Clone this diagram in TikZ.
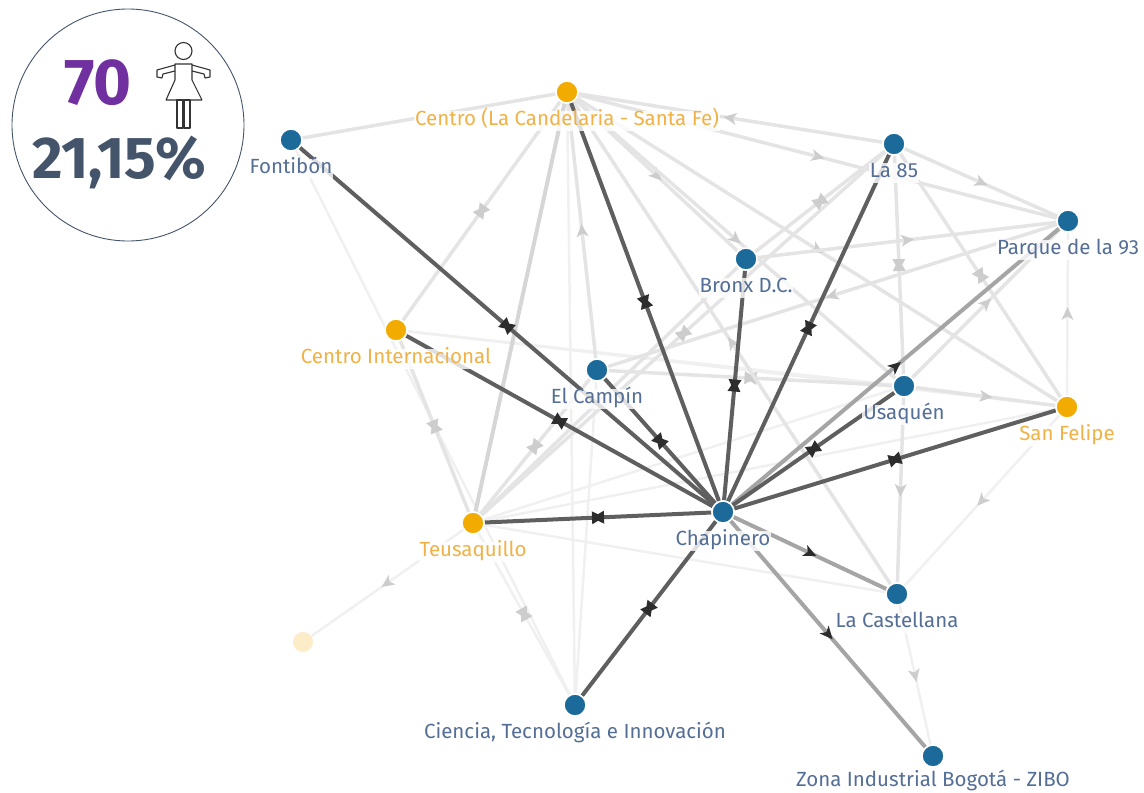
\documentclass[tikz,border=0pt]{standalone}
\usepackage{fontspec}
\setmainfont{Fira Sans}
\usetikzlibrary{decorations.markings}
\definecolor{nodeblue}{RGB}{27,106,154}
\definecolor{nodeorange}{RGB}{242,171,0}
\definecolor{lblblue}{RGB}{84,110,150}
\definecolor{lblorange}{RGB}{240,178,70}
\definecolor{edgedark}{RGB}{95,95,95}
\definecolor{edgemid}{RGB}{165,165,165}
\definecolor{edgelight}{RGB}{214,214,214}
\definecolor{edgefaint}{RGB}{228,228,228}
\definecolor{edgevfaint}{RGB}{240,240,240}
\definecolor{tipdark}{RGB}{45,45,45}
\definecolor{tipfaint}{RGB}{205,205,205}
\definecolor{badgeslate}{RGB}{68,84,106}
\definecolor{badgepurple}{RGB}{112,48,160}
\definecolor{ghostfill}{RGB}{252,236,200}
\pgfdeclarelayer{edges}
\pgfsetlayers{edges,main}
\def\lblfont{\fontsize{20.5}{22}\selectfont}

\begin{document}
\begin{tikzpicture}[bnode/.style={circle, fill=nodeblue, draw=white, line width=1.5pt, minimum size=22pt, inner sep=0pt},
	onode/.style={bnode, fill=nodeorange},
	blbl/.style={text=lblblue, font=\lblfont, fill=white, fill opacity=.8, text opacity=1, inner sep=1pt, text height=14pt, text depth=4pt, yshift=-7pt},
	olbl/.style={blbl, text=lblorange},
	strong/.style={draw=edgedark, line width=4pt},
	mid/.style={draw=edgemid, line width=4pt},
	light/.style={draw=edgelight, line width=4pt},
	faint/.style={draw=edgefaint, line width=3.5pt},
	vfaint/.style={draw=edgevfaint, line width=2.5pt},
	bimark/.style={postaction={decorate}, decoration={markings, mark=at position .5 with {\fill[#1] (-6pt,-6.5pt) -- (6pt,0pt) -- (-6pt,6.5pt) -- cycle; \fill[#1] (6pt,-6.5pt) -- (-6pt,0pt) -- (6pt,6.5pt) -- cycle;}}},
	onemark/.style={postaction={decorate}, decoration={markings, mark=at position .5 with {\fill[#1] (-6pt,-6pt) -- (7pt,0pt) -- (-6pt,6pt) -- (-2.5pt,0pt) -- cycle;}}}]
		\useasboundingbox (0pt, 0pt) rectangle (1144pt, -793pt);
		% badge
		\draw (128.0pt, -125.0pt)node[circle, draw=badgeslate, line width=0.9pt, minimum size=232pt](badge){};
		\draw (98.0pt, -83.0pt)node[text=badgepurple, font=\bfseries\fontsize{65}{65}\selectfont](count){70};
		\draw (119.0pt, -162.0pt)node[text=badgeslate, font=\bfseries\fontsize{59}{59}\selectfont](share){21,15\%};
		\begin{scope}[draw=black!80, line width=1.1pt, line join=round]
			\draw (183.5pt, -51.0pt) circle (8.5pt);
			\draw (175pt, -64pt) -- (192pt, -64pt) -- (192pt, -80pt) -- (202pt, -100pt) -- (166pt, -100pt) -- (175pt, -80pt) -- cycle;
			\draw (177pt, -100pt) rectangle (183pt, -128pt);
			\draw (184pt, -100pt) rectangle (190pt, -128pt);
			\draw (175pt, -65pt) -- (157pt, -70pt) -- (157pt, -77pt) -- (162pt, -78pt) -- (163pt, -74pt) -- (175pt, -71pt);
			\draw (192pt, -65pt) -- (210pt, -70pt) -- (210pt, -77pt) -- (205pt, -78pt) -- (204pt, -74pt) -- (192pt, -71pt);
		\end{scope}
		% places
		\draw (291.0pt, -140.0pt)node[bnode, label={[blbl]below:Fontibón}](fon){};
		\draw (567.0pt, -92.0pt)node[onode, label={[olbl]below:Centro (La Candelaria - Santa Fe)}](cand){};
		\draw (894.0pt, -144.0pt)node[bnode, label={[blbl]below:La 85}](la85){};
		\draw (1068.0pt, -221.0pt)node[bnode, label={[blbl]below:Parque de la 93}](parq){};
		\draw (746.0pt, -259.0pt)node[bnode, label={[blbl]below:Bronx D.C.}](bron){};
		\draw (396.0pt, -330.0pt)node[onode, label={[olbl]below:Centro Internacional}](cint){};
		\draw (597.0pt, -370.0pt)node[bnode, label={[blbl]below:El Campín}](camp){};
		\draw (904.0pt, -386.0pt)node[bnode, label={[blbl]below:Usaquén}](usaq){};
		\draw (1067.0pt, -407.0pt)node[onode, label={[olbl]below:San Felipe}](sanf){};
		\draw (473.0pt, -523.0pt)node[onode, label={[olbl]below:Teusaquillo}](teus){};
		\draw (723.0pt, -512.0pt)node[bnode, label={[blbl]below:Chapinero}](chap){};
		\draw (897.0pt, -594.0pt)node[bnode, label={[blbl]below:La Castellana}](cast){};
		\draw (575.0pt, -705.0pt)node[bnode, label={[blbl]below:Ciencia, Tecnología e Innovación}](cien){};
		\draw (933.0pt, -756.0pt)node[bnode, label={[blbl, yshift=3pt]below:Zona Industrial Bogotá - ZIBO}](zibo){};
		\draw (303.0pt, -642.0pt)node[circle, fill=ghostfill, minimum size=20pt, inner sep=0pt](ghost){};
		\begin{pgfonlayer}{edges}
		% faint flows
		\path (fon) edge[vfaint] (cien);
		\path (cien) edge[vfaint] (cand);
		\path (cien) edge[vfaint] (camp);
		\path (teus) edge[vfaint] (cast);
		\path (teus) edge[vfaint] (usaq);
		\path (teus) edge[vfaint] (sanf);
		\path (cint) edge[vfaint] (usaq);
		\path (cint) edge[vfaint] (sanf);
		\path (bron) edge[faint] (teus);
		\path (teus) edge[vfaint, onemark=tipfaint] (ghost);
		\path (fon) edge[faint] (cand);
		\path (cand) edge[light] (teus);
		\path (cand) edge[faint, bimark=tipfaint] (cint);
		\path (cint) edge[faint, bimark=tipfaint] (teus);
		\path (teus) edge[faint, bimark=tipfaint] (camp);
		\path (teus) edge[vfaint, bimark=tipfaint] (cien);
		\path (teus) edge[faint, bimark=tipfaint] (la85);
		\path (camp) edge[faint, bimark=tipfaint] (usaq);
		\path (bron) edge[faint, bimark=tipfaint] (la85);
		\path (la85) edge[faint, bimark=tipfaint] (usaq);
		\path (la85) edge[faint, bimark=tipfaint] (sanf);
		\path (camp) edge[faint, onemark=tipfaint] (cand);
		\path (cand) edge[faint, onemark=tipfaint] (bron);
		\path (cand) edge[faint, onemark=tipfaint] (usaq);
		\path (cand) edge[faint, onemark=tipfaint] (sanf);
		\path (cand) edge[faint, onemark=tipfaint] (parq);
		\path (cast) edge[faint, onemark=tipfaint] (cand);
		\path (la85) edge[faint, onemark=tipfaint] (cand);
		\path (la85) edge[faint, onemark=tipfaint] (parq);
		\path (bron) edge[faint, onemark=tipfaint] (parq);
		\path (parq) edge[faint, onemark=tipfaint] (camp);
		\path (usaq) edge[faint, onemark=tipfaint] (parq);
		\path (usaq) edge[faint, onemark=tipfaint] (sanf);
		\path (usaq) edge[faint, onemark=tipfaint] (cast);
		\path (sanf) edge[vfaint, onemark=tipfaint] (parq);
		\path (sanf) edge[vfaint, onemark=tipfaint] (cast);
		\path (cast) edge[vfaint, onemark=tipfaint] (zibo);
		% flows of Chapinero
		\path (chap) edge[mid, onemark=tipdark] (parq);
		\path (chap) edge[mid, onemark=tipdark] (cast);
		\path (chap) edge[mid, onemark=tipdark] (zibo);
		\path (chap) edge[strong, bimark=tipdark] (fon);
		\path (chap) edge[strong, bimark=tipdark] (cand);
		\path (chap) edge[strong, bimark=tipdark] (bron);
		\path (chap) edge[strong, bimark=tipdark] (la85);
		\path (chap) edge[strong, bimark=tipdark] (usaq);
		\path (chap) edge[strong, bimark=tipdark] (sanf);
		\path (chap) edge[strong, bimark=tipdark] (cint);
		\path (chap) edge[strong, bimark=tipdark] (camp);
		\path (chap) edge[strong, bimark=tipdark] (teus);
		\path (chap) edge[strong, bimark=tipdark] (cien);
		\end{pgfonlayer}
		\end{tikzpicture}
\end{document}
